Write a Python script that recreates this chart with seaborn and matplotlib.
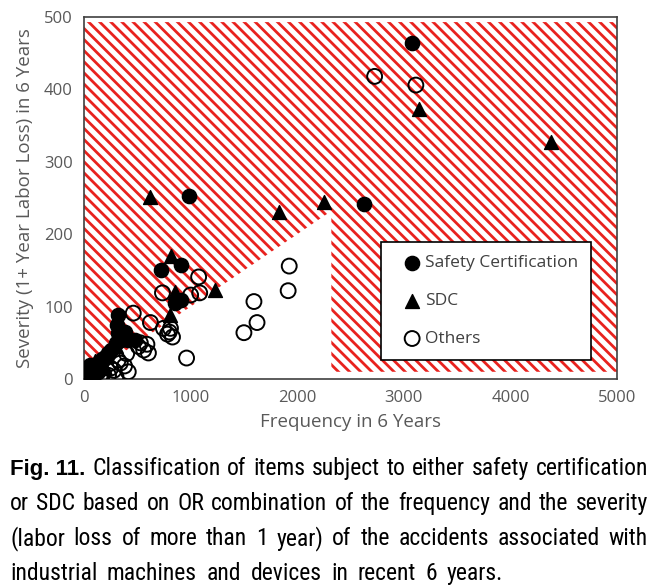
import numpy as np
import pandas as pd
import matplotlib
matplotlib.use("Agg")
import matplotlib.pyplot as plt
from matplotlib import font_manager
import seaborn as sns

# points (frequency, severity)
safety_freq = [3075, 981, 2623, 726, 906, 906, 858, 321, 311, 387, 415, 321, 480, 226, 200,
               150, 120, 100, 80, 60, 40, 20, 10, 5, 170, 250, 130, 60, 300, 350]
safety_sev = [464, 253, 242, 150, 157, 109, 105, 89, 75, 65, 54, 64, 54, 36, 30,
              25, 20, 15, 12, 8, 5, 3, 1, 0, 28, 40, 10, 20, 50, 55]

sdc_freq = [623, 1830, 2255, 3142, 4377, 818, 1226, 849, 802, 420, 300, 150, 80, 30, 200, 100]
sdc_sev = [251, 231, 245, 373, 328, 170, 123, 120, 88, 55, 45, 20, 10, 5, 15, 25]

other_freq = [2726, 3113, 1925, 1915, 1594, 1623, 1500, 962, 1075, 1085, 1000, 736, 623, 811,
              745, 783, 830, 800, 528, 560, 604, 462, 510, 590, 320, 340, 415, 380, 230, 300,
              250, 180, 150, 100, 60, 400, 280]
other_sev = [418, 406, 156, 122, 107, 78, 64, 29, 141, 119, 116, 119, 78, 70,
             70, 62, 58, 65, 50, 40, 36, 91, 45, 48, 26, 22, 10, 18, 5, 3,
             15, 8, 4, 2, 1, 35, 12]

# hatched zone (OR combination of frequency and severity)
zone_x = [0, 2320, 2320, 5010, 5010, 0]
zone_y = [0, 232, 10, 10, 493, 493]

labels = ["Safety Certification", "SDC", "Others"]

caption = [
    "Classification of items subject to either safety certification",
    "or SDC based on OR combination of the frequency and the severity",
    "(labor loss of more than 1 year) of the accidents associated with",
    "industrial machines and devices in recent 6 years.",
]

sns.set_style("white")
plt.rcParams['font.family'] = ['Open Sans', 'DejaVu Sans']
plt.rcParams['hatch.linewidth'] = 2.0

names = set(f.name for f in font_manager.fontManager.ttflist)
cap_font = 'DejaVu Sans'
for nm in ['Liberation Sans Narrow', 'Roboto Condensed', 'DejaVu Sans Condensed', 'Liberation Sans']:
    if nm in names:
        cap_font = nm
        break

df = pd.concat([
    pd.DataFrame({"freq": safety_freq, "sev": safety_sev, "grp": labels[0]}),
    pd.DataFrame({"freq": sdc_freq, "sev": sdc_sev, "grp": labels[1]}),
    pd.DataFrame({"freq": other_freq, "sev": other_sev, "grp": labels[2]}),
])

fig = plt.figure(figsize=(6.58, 5.87), dpi=100)
ax = fig.add_axes([0.1277, 0.3543, 0.810, 0.6167])

ax.fill(zone_x, zone_y, facecolor='white', edgecolor='#e8221e', hatch='\\\\\\', linewidth=0, zorder=0)

sns.scatterplot(data=df[df.grp == labels[0]], x="freq", y="sev", marker='o', s=105,
                color='black', edgecolor='black', linewidth=1, label=labels[0], ax=ax, zorder=3)
sns.scatterplot(data=df[df.grp == labels[1]], x="freq", y="sev", marker='^', s=100,
                color='black', edgecolor='black', linewidth=1, label=labels[1], ax=ax, zorder=3)
sns.scatterplot(data=df[df.grp == labels[2]], x="freq", y="sev", marker='o', s=115,
                facecolor='none', edgecolor='black', linewidth=1.4, label=labels[2], ax=ax, zorder=3)

ax.set_xlim(0, 5000)
ax.set_ylim(0, 500)
ax.set_xticks(np.arange(0, 5001, 1000))
ax.set_yticks(np.arange(0, 501, 100))
ax.tick_params(axis='both', length=0, labelsize=12, labelcolor='#595959', pad=8)
for sp in ax.spines.values():
    sp.set_color('#404040')
    sp.set_linewidth(1.2)
ax.set_xlabel("Frequency in 6 Years", fontsize=13.5, color='#595959', labelpad=5)
ax.set_ylabel("Severity (1+ Year Labor Loss) in 6 Years", fontsize=13.5, color='#595959', labelpad=7)

leg = ax.legend(loc='upper left', bbox_to_anchor=(0.557, 0.378), frameon=True, fancybox=False,
                framealpha=1, edgecolor='black', fontsize=12.5, labelspacing=1.25,
                handletextpad=-0.3, handlelength=2.1, borderpad=0.75, borderaxespad=0)
leg.get_frame().set_linewidth(1.2)
for t in leg.get_texts():
    t.set_color('#404040')

# caption, justified word by word
fig.canvas.draw()
r = fig.canvas.get_renderer()
W, H = fig.bbox.width, fig.bbox.height
left = 10
rights = [648, 648, 648, 503]
base = [475, 510, 545, 580]
csize = 17
for i, line in enumerate(caption):
    items = []
    if i == 0:
        items.append(("Fig. 11.", dict(fontfamily='Liberation Sans', fontweight='bold', fontsize=csize - 1)))
    for w in line.split():
        items.append((w, dict(fontfamily=cap_font, fontsize=csize)))
    objs = []
    for txt, kw in items:
        t = fig.text(0, 1 - base[i] / H, txt, ha='left', va='baseline', color='black', **kw)
        objs.append(t)
    widths = [t.get_window_extent(r).width for t in objs]
    gap = (rights[i] - left - sum(widths)) / (len(objs) - 1)
    x = left
    for t, w in zip(objs, widths):
        t.set_x(x / W)
        x += w + gap

fig.savefig("out.png", dpi=100)
